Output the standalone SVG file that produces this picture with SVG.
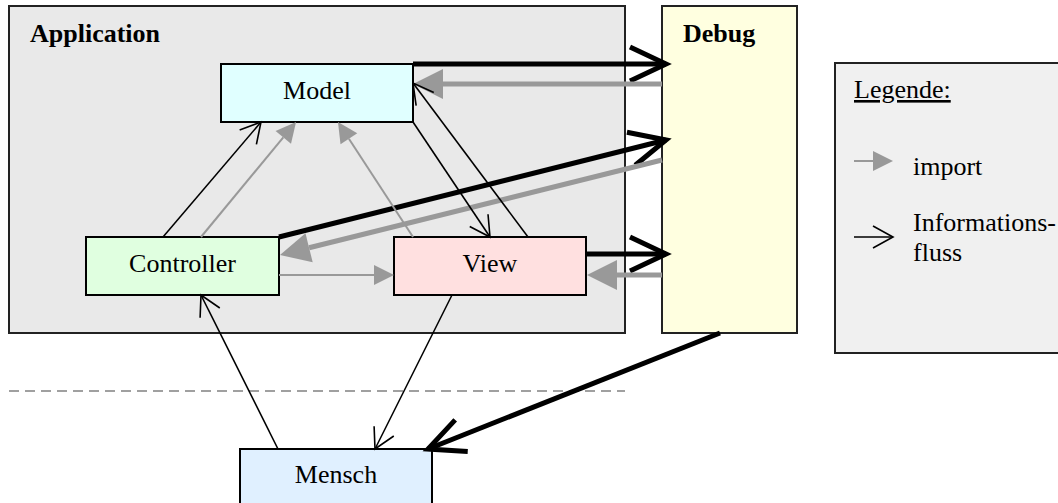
<svg xmlns="http://www.w3.org/2000/svg" width="1058" height="503" viewBox="0 0 1058 503" font-family="'Liberation Serif', 'Times New Roman', Times, serif">
<style>
text{font-family:'Liberation Serif','Times New Roman',Times,serif;font-size:26px;fill:#000}
.b{font-weight:bold}
.box{stroke:#000;stroke-width:2}
.frame{stroke:#222;stroke-width:2}
.thin{stroke:#000;stroke-width:1.6;fill:none}
.thick{stroke:#000;stroke-width:5;fill:none}
.gthin{stroke:#999;stroke-width:2;fill:none}
.gthick{stroke:#999;stroke-width:5;fill:none}
</style>
<defs>
<marker id="oThin" markerUnits="userSpaceOnUse" viewBox="-40 -20 45 40" markerWidth="45" markerHeight="40" refX="0" refY="0" orient="auto" overflow="visible">
<path d="M-20,-11 L0,0 L-20,11" fill="none" stroke="#000" stroke-width="1.6"/>
</marker>
<marker id="oThick" markerUnits="userSpaceOnUse" viewBox="-40 -20 45 40" markerWidth="45" markerHeight="40" refX="0" refY="0" orient="auto" overflow="visible">
<path d="M-36,-17 L0,0 L-36,17" fill="none" stroke="#000" stroke-width="5"/>
</marker>
<marker id="gBig" markerUnits="userSpaceOnUse" viewBox="-5 -20 40 40" markerWidth="40" markerHeight="40" refX="0" refY="0" orient="auto" overflow="visible">
<polygon points="0,-15 30,0 0,15" fill="#999"/>
</marker>
<marker id="gSmall" markerUnits="userSpaceOnUse" viewBox="-5 -20 40 40" markerWidth="40" markerHeight="40" refX="0" refY="0" orient="auto" overflow="visible">
<polygon points="0,-10 20,0 0,10" fill="#999"/>
</marker>
</defs>

<g id="application">
<rect x="9" y="6" width="616" height="327" fill="#e9e9e9" class="frame"/>
<text x="30" y="42" class="b" font-family="Liberation Serif, serif">Application</text>
</g>
<g id="debug">
<rect x="662" y="6" width="135" height="327" fill="#ffffe0" class="frame"/>
<text x="683" y="42" class="b" font-family="Liberation Serif, serif">Debug</text>
</g>
<g id="legend">
<rect x="835" y="63" width="230" height="290" fill="#f0f0f0" class="frame"/>
<text x="854" y="98" text-decoration="underline">Legende:</text>
<line x1="854" y1="161" x2="873" y2="161" class="gthin" marker-end="url(#gSmall)"/>
<text x="913" y="175">import</text>
<line x1="854" y1="237" x2="893" y2="237" class="thin" marker-end="url(#oThin)"/>
<text x="913" y="231">Informations-</text>
<text x="913" y="261">fluss</text>
</g>
<line id="separator" x1="9" y1="391" x2="625" y2="391" stroke="#a0a0a0" stroke-width="2" stroke-dasharray="10,6"/>

<g id="model">
<rect x="221" y="64" width="192" height="58" fill="#e0ffff" class="box"/>
<text x="317" y="99" text-anchor="middle">Model</text>
</g>
<g id="controller">
<rect x="86" y="237" width="193" height="58" fill="#e0ffe0" class="box"/>
<text x="182.5" y="272" text-anchor="middle">Controller</text>
</g>
<g id="view">
<rect x="394" y="237" width="192" height="58" fill="#ffe0e0" class="box"/>
<text x="490" y="272" text-anchor="middle">View</text>
</g>
<g id="mensch">
<rect x="240" y="449" width="192" height="60" fill="#e0f0ff" class="box"/>
<text x="336" y="483" text-anchor="middle">Mensch</text>
</g>

<g id="connectors">
<line x1="413" y1="64" x2="666" y2="64" class="thick" marker-end="url(#oThick)"/>
<line x1="662" y1="84" x2="443" y2="84" class="gthick" marker-end="url(#gBig)"/>
<line x1="279" y1="237" x2="666" y2="140" class="thick" marker-end="url(#oThick)"/>
<line x1="662" y1="160" x2="309.1" y2="247.8" class="gthick" stroke-width="4" marker-end="url(#gBig)"/>
<line x1="586" y1="254" x2="666" y2="254" class="thick" marker-end="url(#oThick)"/>
<line x1="662" y1="275" x2="617" y2="275" class="gthick" marker-end="url(#gBig)"/>
<line x1="720" y1="333" x2="428" y2="449" class="thick" marker-end="url(#oThick)"/>
<line x1="163" y1="237" x2="261" y2="122" class="thin" marker-end="url(#oThin)"/>
<line x1="201" y1="237" x2="283.3" y2="137.4" class="gthin" marker-end="url(#gSmall)"/>
<line x1="413" y1="237" x2="348.9" y2="138.8" class="gthin" marker-end="url(#gSmall)"/>
<line x1="413" y1="122" x2="490" y2="237" class="thin" marker-end="url(#oThin)"/>
<line x1="528" y1="237" x2="413" y2="83" class="thin" marker-end="url(#oThin)"/>
<line x1="279" y1="275" x2="374" y2="275" class="gthin" marker-end="url(#gSmall)"/>
<line x1="278" y1="449" x2="201" y2="295" class="thin" marker-end="url(#oThin)"/>
<line x1="452" y1="295" x2="375" y2="449" class="thin" marker-end="url(#oThin)"/>
</g>
</svg>
